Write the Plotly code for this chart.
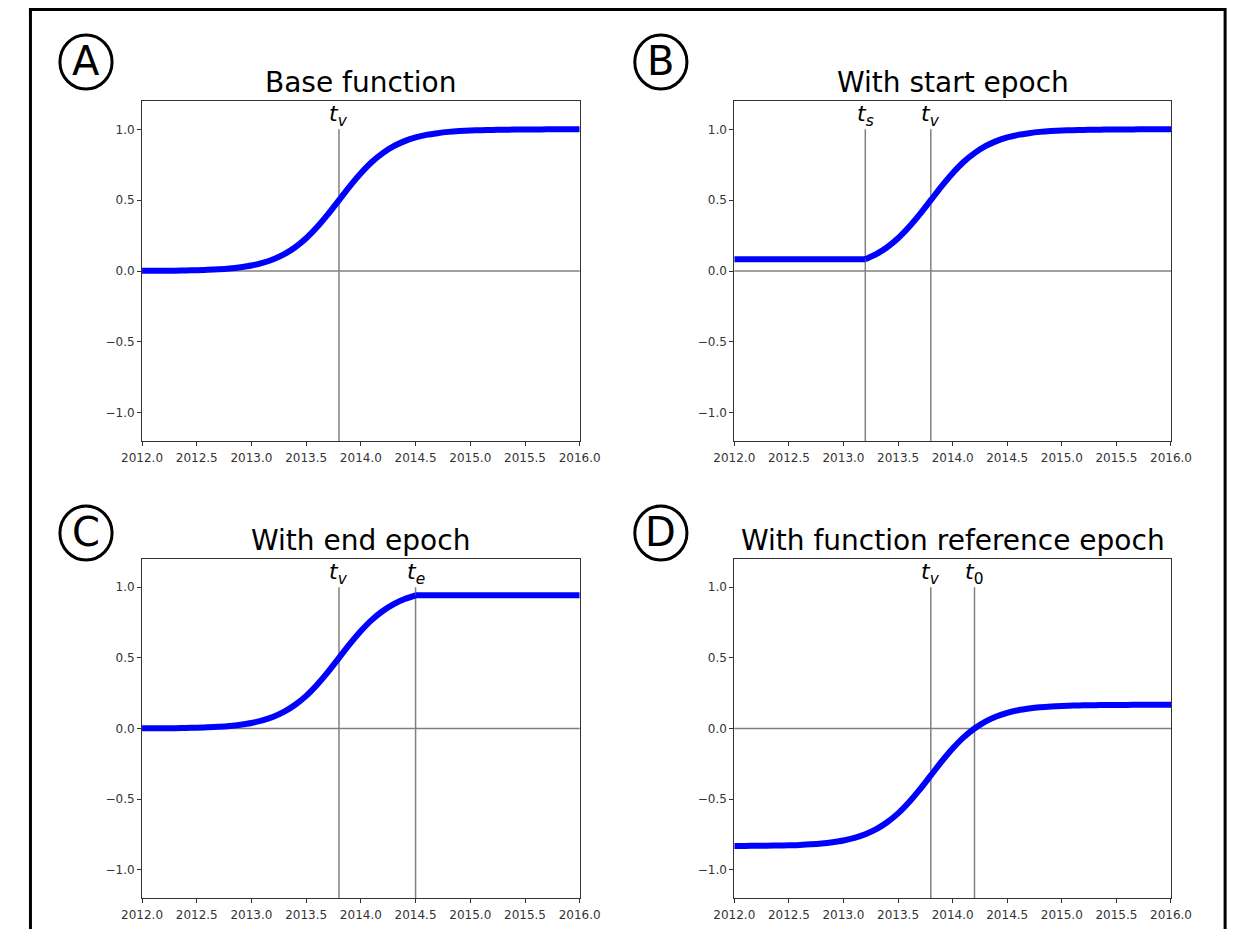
import plotly.graph_objects as go

# ---------------- data ----------------
x_years = [2012.0, 2012.1, 2012.2, 2012.3, 2012.4, 2012.5, 2012.6, 2012.7, 2012.8, 2012.9,
           2013.0, 2013.1, 2013.2, 2013.3, 2013.4, 2013.5, 2013.6, 2013.7, 2013.8, 2013.9,
           2014.0, 2014.1, 2014.2, 2014.3, 2014.4, 2014.5, 2014.6, 2014.7, 2014.8, 2014.9,
           2015.0, 2015.1, 2015.2, 2015.3, 2015.4, 2015.5, 2015.6, 2015.7, 2015.8, 2015.9,
           2016.0]

base_values = [0.001, 0.001, 0.002, 0.002, 0.004, 0.005, 0.008, 0.012, 0.018, 0.027,
               0.039, 0.057, 0.083, 0.119, 0.168, 0.231, 0.310, 0.401, 0.500, 0.599,
               0.690, 0.769, 0.832, 0.881, 0.917, 0.943, 0.961, 0.973, 0.982, 0.988,
               0.992, 0.994, 0.996, 0.997, 0.998, 0.999, 0.999, 1.000, 1.000, 1.000,
               1.000]

start_values = [0.083, 0.083, 0.083, 0.083, 0.083, 0.083, 0.083, 0.083, 0.083, 0.083,
                0.083, 0.083, 0.083, 0.119, 0.168, 0.231, 0.310, 0.401, 0.500, 0.599,
                0.690, 0.769, 0.832, 0.881, 0.917, 0.943, 0.961, 0.973, 0.982, 0.988,
                0.992, 0.994, 0.996, 0.997, 0.998, 0.999, 0.999, 1.000, 1.000, 1.000,
                1.000]

end_values = [0.001, 0.001, 0.002, 0.002, 0.004, 0.005, 0.008, 0.012, 0.018, 0.027,
              0.039, 0.057, 0.083, 0.119, 0.168, 0.231, 0.310, 0.401, 0.500, 0.599,
              0.690, 0.769, 0.832, 0.881, 0.917, 0.943, 0.943, 0.943, 0.943, 0.943,
              0.943, 0.943, 0.943, 0.943, 0.943, 0.943, 0.943, 0.943, 0.943, 0.943,
              0.943]

ref_values = [-0.831, -0.831, -0.830, -0.830, -0.828, -0.827, -0.824, -0.820, -0.814, -0.805,
              -0.793, -0.775, -0.749, -0.713, -0.664, -0.601, -0.522, -0.431, -0.332, -0.233,
              -0.142, -0.063, 0.000, 0.049, 0.085, 0.111, 0.129, 0.141, 0.150, 0.156,
              0.160, 0.162, 0.164, 0.165, 0.166, 0.167, 0.167, 0.168, 0.168, 0.168,
              0.168]

titles = ["Base function", "With start epoch", "With end epoch", "With function reference epoch"]
panel_letters = ["A", "B", "C", "D"]

# epoch markers per panel: (position, label html)
epochs = [
    [(2013.8, "<i>t</i><sub><i>v</i></sub>")],
    [(2013.2, "<i>t</i><sub><i>s</i></sub>"), (2013.8, "<i>t</i><sub><i>v</i></sub>")],
    [(2013.8, "<i>t</i><sub><i>v</i></sub>"), (2014.5, "<i>t</i><sub><i>e</i></sub>")],
    [(2013.8, "<i>t</i><sub><i>v</i></sub>"), (2014.2, "<i>t</i><sub>0</sub>")],
]
# index in x_years where the curve has a kink (start / end epoch), None if smooth
kink_index = [None, 12, 25, None]

x_ticks = [2012.0, 2012.5, 2013.0, 2013.5, 2014.0, 2014.5, 2015.0, 2015.5, 2016.0]
y_ticks = [-1.0, -0.5, 0.0, 0.5, 1.0]
x_range = [2012.0, 2016.0]
y_range = [-1.2, 1.2]

series = [base_values, start_values, end_values, ref_values]

# ---------------- layout geometry (pixels of the reference page) ----------------
OFF = 8                 # default page margin around the figure
W, H = 1241, 921        # figure size so that it fits in the 1249x937 window
panels_px = [  # left, right, top, bottom  (window pixels)
    (125, 578, 101, 441),
    (738, 1190, 101, 441),
    (125, 578, 559, 898),
    (738, 1190, 559, 898),
]
circle_centers = [(67, 62), (662, 62), (67, 533), (662, 533)]


def px(xp):
    return (xp - OFF) / W


def py(yp):
    return 1 - (yp - OFF) / H


fig = go.Figure()
FONT = "DejaVu Sans"
GRAY = "#808080"
BLUE = "#0000ff"

for i in range(4):
    l, r, t, b = panels_px[i]
    xa = "xaxis" if i == 0 else f"xaxis{i+1}"
    ya = "yaxis" if i == 0 else f"yaxis{i+1}"
    xref = "x" if i == 0 else f"x{i+1}"
    yref = "y" if i == 0 else f"y{i+1}"

    axis_common = dict(ticks="outside", ticklen=4, tickcolor="#333", tickwidth=1,
                       showline=True, linecolor="#333", linewidth=1, mirror=True,
                       showgrid=False, zeroline=False, tickformat=".1f",
                       tickfont=dict(family=FONT, size=12, color="#333"))
    fig.update_layout({
        xa: dict(domain=[px(l), px(r)], range=x_range, anchor=yref, tickvals=x_ticks,
                 ticklabelstandoff=2, **axis_common),
        ya: dict(domain=[py(b), py(t)], range=y_range, anchor=xref, tickvals=y_ticks,
                 **axis_common),
    })

    # horizontal zero line
    fig.add_shape(type="line", xref=f"{xref} domain", yref=yref, x0=0, x1=1, y0=0, y1=0,
                  line=dict(color=GRAY, width=1.5), layer="below")
    # epoch lines and labels
    for pos, lab in epochs[i]:
        fig.add_shape(type="line", xref=xref, yref=yref, x0=pos, x1=pos,
                      y0=y_range[0], y1=1.0, line=dict(color=GRAY, width=1.5), layer="below")
        fig.add_annotation(x=pos, y=1.0, xref=xref, yref=yref, text=lab, showarrow=False,
                           yanchor="bottom", xanchor="center", yshift=-3,
                           font=dict(family=FONT, size=22, color="black"))

    vals = series[i]
    k = kink_index[i]
    if k is None:
        segments = [(x_years, vals, "spline")]
    elif i == 1:
        segments = [(x_years[:k + 1], vals[:k + 1], "linear"), (x_years[k:], vals[k:], "spline")]
    else:
        segments = [(x_years[:k + 1], vals[:k + 1], "spline"), (x_years[k:], vals[k:], "linear")]
    for sx, sy, shp in segments:
        fig.add_trace(go.Scatter(x=sx, y=sy, mode="lines", xaxis=xref, yaxis=yref,
                                 line=dict(color=BLUE, width=6, shape=shp, smoothing=0.8),
                                 showlegend=False, hoverinfo="skip"))

    # title
    fig.add_annotation(x=px((l + r) / 2), y=py(t), xref="paper", yref="paper", text=titles[i],
                       showarrow=False, yanchor="bottom", xanchor="center", yshift=0,
                       font=dict(family=FONT, size=28, color="black"))

    # circled letter
    cx, cy = circle_centers[i]
    rr = 27
    fig.add_shape(type="circle", xref="paper", yref="paper",
                  x0=px(cx - rr), x1=px(cx + rr), y0=py(cy + rr), y1=py(cy - rr),
                  line=dict(color="black", width=3))
    fig.add_annotation(x=px(cx), y=py(cy), xref="paper", yref="paper", text=panel_letters[i],
                       showarrow=False, xanchor="center", yanchor="middle", yshift=1,
                       font=dict(family=FONT, size=40, color="black"))

# outer frame (left, top and right edges; bottom runs off the page)
fig.add_shape(type="rect", xref="paper", yref="paper", x0=px(9.5), x1=px(1246),
              y0=-0.05, y1=py(9.5), line=dict(color="black", width=3))

fig.update_layout(width=W, height=H, margin=dict(l=0, r=0, t=0, b=0),
                  paper_bgcolor="white", plot_bgcolor="white", showlegend=False)

fig.write_html("out.html")
